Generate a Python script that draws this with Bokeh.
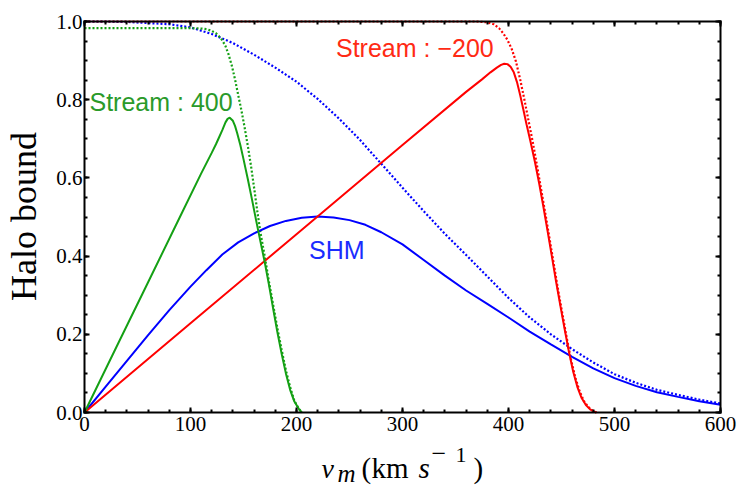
import math
from bokeh.plotting import figure
from bokeh.models import (Range1d, SingleIntervalTicker, LinearAxis,
                          PrintfTickFormatter, Label)
from bokeh.embed import file_html
from bokeh.resources import INLINE

# ---------------- data ----------------
green_solid_v = [0, 30, 60, 90, 110, 120, 124, 127, 130, 133, 135, 137, 140, 142, 144, 147,
                 150, 154, 158, 162, 166, 170, 174, 178, 182, 186, 190, 194, 198, 202, 205]
green_solid_h = [0, 0.167, 0.333, 0.5, 0.611, 0.664, 0.686, 0.704, 0.722, 0.742, 0.751, 0.754,
                 0.746, 0.733, 0.715, 0.684, 0.648, 0.598, 0.545, 0.49, 0.437, 0.385, 0.327,
                 0.265, 0.205, 0.15, 0.1, 0.058, 0.028, 0.01, 0]

green_dot_v = [0, 100, 110, 116, 120, 124, 127, 130, 133, 136, 139, 142, 145, 148, 151, 154,
               157, 160, 163, 166, 170, 174, 178, 182, 186, 190, 194, 198, 202, 205]
green_dot_h = [0.983, 0.983, 0.982, 0.98, 0.976, 0.97, 0.962, 0.952, 0.937, 0.915, 0.887,
               0.852, 0.812, 0.773, 0.73, 0.683, 0.632, 0.575, 0.515, 0.46, 0.4, 0.335, 0.275,
               0.215, 0.16, 0.108, 0.065, 0.03, 0.01, 0]

blue_solid_v = [0, 20, 40, 60, 80, 100, 115, 130, 145, 160, 175, 190, 205, 220, 235, 250, 265,
                280, 300, 320, 340, 360, 380, 400, 420, 440, 460, 480, 500, 520, 540, 560,
                580, 600]
blue_solid_h = [0, 0.066, 0.132, 0.198, 0.262, 0.322, 0.364, 0.404, 0.435, 0.458, 0.477, 0.49,
                0.498, 0.501, 0.499, 0.492, 0.48, 0.461, 0.43, 0.39, 0.35, 0.312, 0.278, 0.243,
                0.207, 0.174, 0.142, 0.113, 0.088, 0.068, 0.052, 0.04, 0.029, 0.02]

blue_dot_v = [0, 40, 80, 100, 120, 140, 160, 180, 200, 220, 240, 260, 280, 300, 320, 340, 360,
              380, 400, 420, 440, 460, 480, 500, 520, 540, 560, 580, 600]
blue_dot_h = [1.0, 0.999, 0.993, 0.985, 0.968, 0.945, 0.915, 0.882, 0.846, 0.802, 0.752,
              0.697, 0.636, 0.575, 0.515, 0.457, 0.403, 0.348, 0.293, 0.243, 0.2, 0.162, 0.128,
              0.098, 0.076, 0.058, 0.045, 0.033, 0.023]

red_solid_v = [0, 100, 200, 300, 360, 375, 383, 389, 393, 396, 399, 402, 405, 408, 411, 414,
               417, 421, 425, 429, 433, 437, 441, 445, 449, 453, 457, 461, 465, 469, 473, 477,
               481, 483]
red_solid_h = [0, 0.228, 0.456, 0.684, 0.82, 0.852, 0.87, 0.882, 0.889, 0.892, 0.891, 0.884,
               0.87, 0.845, 0.812, 0.775, 0.737, 0.69, 0.64, 0.585, 0.525, 0.462, 0.398, 0.333,
               0.272, 0.213, 0.155, 0.105, 0.065, 0.037, 0.019, 0.008, 0.002, 0]

red_dot_v = [0, 370, 380, 386, 391, 395, 399, 403, 407, 411, 415, 419, 423, 427, 431, 435, 439,
             443, 447, 451, 455, 459, 463, 467, 471, 475, 479, 483]
red_dot_h = [1.0, 1.0, 0.998, 0.993, 0.983, 0.97, 0.953, 0.93, 0.898, 0.852, 0.8, 0.745, 0.69,
             0.63, 0.567, 0.505, 0.44, 0.375, 0.31, 0.25, 0.19, 0.135, 0.09, 0.055, 0.03,
             0.015, 0.005, 0]

x_bounds = (0, 600)
y_bounds = (0, 1)
x_tick_interval = 100
y_tick_interval = 0.2

# ---------------- layout constants (pixels) ----------------
W, H = 740, 488
L, R, T, B = 84, 20, 21, 76          # plot box inside the page
FW, FH = W - L - R, H - T - B
X0, X1 = x_bounds
Y0, Y1 = y_bounds
sx = FW / (X1 - X0)
sy = FH / (Y1 - Y0)


def px(xp, yp):
    """page pixel position -> data coordinates (used for annotations)"""
    return (X0 + (xp - L) / sx, Y0 + (T + FH - yp) / sy)


p = figure(width=W, height=H, output_backend="svg", toolbar_location=None,
           x_range=Range1d(X0 - L / sx, X1 + R / sx),
           y_range=Range1d(Y0 - B / sy, Y1 + T / sy),
           min_border=0, x_axis_location=None, y_axis_location=None)
p.grid.visible = False
p.background_fill_color = "white"
p.border_fill_color = "white"
p.outline_line_color = None


def style(ax, show_labels, standoff):
    ax.axis_line_color = "black"
    ax.axis_line_width = 2
    ax.axis_line_cap = "square"
    ax.major_tick_in = 5
    ax.major_tick_out = 0
    ax.minor_tick_in = 3
    ax.minor_tick_out = 0
    ax.major_tick_line_width = 2
    ax.minor_tick_line_width = 2
    ax.major_tick_line_color = "black"
    ax.minor_tick_line_color = "black"
    ax.major_label_text_font = "Liberation Serif"
    ax.major_label_text_font_size = "21px"
    ax.major_label_standoff = standoff
    ax.major_label_text_color = "black" if show_labels else None


axes = [("below", Y0, True, 4), ("above", Y1, False, 0)]
for loc, fixed, show, so in axes:
    ax = LinearAxis(ticker=SingleIntervalTicker(interval=x_tick_interval, num_minor_ticks=5),
                    fixed_location=fixed, bounds=x_bounds)
    style(ax, show, so)
    p.add_layout(ax, loc)

axes = [("left", X0, True, 2), ("right", X1, False, 0)]
for loc, fixed, show, so in axes:
    ax = LinearAxis(ticker=SingleIntervalTicker(interval=y_tick_interval, num_minor_ticks=4),
                    formatter=PrintfTickFormatter(format="%.1f"),
                    fixed_location=fixed, bounds=y_bounds)
    style(ax, show, so)
    p.add_layout(ax, loc)

GREEN = "#14a014"
BLUE = "#0000ff"
RED = "#ff0000"

p.line(blue_dot_v, blue_dot_h, line_color=BLUE, line_width=2.2, line_dash="2 2")
p.line(red_dot_v, red_dot_h, line_color=RED, line_width=2.2, line_dash="2 2")
p.line(green_dot_v, green_dot_h, line_color=GREEN, line_width=2.2, line_dash="2 2")
p.line(blue_solid_v, blue_solid_h, line_color=BLUE, line_width=2)
p.line(red_solid_v, red_solid_h, line_color=RED, line_width=2)
p.line(green_solid_v, green_solid_h, line_color=GREEN, line_width=2)


def lab(text, xp, yp, size, font="Liberation Sans", color="black", style_="normal",
        angle=0.0, align="left", baseline="alphabetic", shift=True):
    # measured: Bokeh's alphabetic baseline sits ~0.36 em lower than intended
    if shift:
        yp = yp - 0.36 * size
    x, y = px(xp, yp)
    p.add_layout(Label(x=x, y=y, x_units="data", y_units="data", text=text,
                       text_font=font, text_font_size=f"{size}px", text_color=color,
                       text_font_style=style_, angle=angle, text_align=align,
                       text_baseline=baseline))


# curve labels
lab("Stream : 400", 89, 110, 25, color="#2a9a2a")
lab("Stream : \u2212200", 335.5, 56.5, 25, color="#ff2a14")
lab("SHM", 308.5, 258, 25, color="#1a2cff")

# y axis title
lab("Halo bound", 23, 216, 36, font="Liberation Serif", angle=math.pi / 2,
    align="center", baseline="middle", shift=False)

# x axis title: v_m (km s^-1)
SER = "Liberation Serif"
lab("v", 321, 478, 28, font=SER, style_="italic")
lab("m", 337, 482, 25, font=SER, style_="italic")
lab("(", 361, 478, 29, font=SER)
lab("km", 371, 478, 29, font=SER)
lab("s", 418, 478, 29, font=SER, style_="italic")
lab("\u2212", 431, 462, 26, font=SER)
lab("1", 455, 462, 22, font=SER)
lab(")", 473, 478, 29, font=SER)

open("out.html", "w").write(file_html(p, INLINE))
